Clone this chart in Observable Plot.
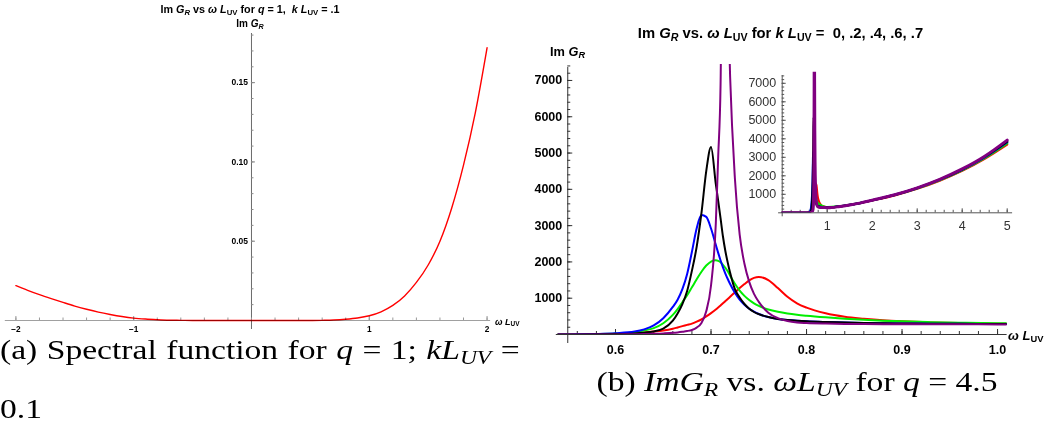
<!DOCTYPE html>
<html><head><meta charset="utf-8">
<script src="https://cdn.jsdelivr.net/npm/d3@7"></script>
<script src="https://cdn.jsdelivr.net/npm/@observablehq/plot@0.6"></script>
<style>
html,body{margin:0;padding:0;background:#fff}
body{width:1064px;height:430px;position:relative;overflow:hidden}
.box{position:absolute}
.box svg{display:block;overflow:visible;background:none;max-width:none}
.lbl{position:absolute;font-family:"Liberation Sans",Arial,sans-serif;font-weight:bold;white-space:nowrap;line-height:1;color:#000}
.c{transform:translate(-50%,-50%)}
.lm{transform:translate(0,-50%)}
.lbl sub{font-size:0.72em;vertical-align:-0.28em;line-height:0}
.cap{position:absolute;font-family:"Liberation Serif","Times New Roman",serif;font-size:28px;line-height:1;white-space:nowrap;color:#000;transform-origin:0 0;transform:scaleX(1.2)}
.cap.cc{transform-origin:50% 50%;transform:translate(-50%,-50%) scaleX(1.2)}
.cap sub{font-size:0.7em;vertical-align:-0.25em;line-height:0}
</style></head><body>
<div id="chartA" class="box" style="left:0;top:0;width:520px;height:345px"></div>
<div id="chartB" class="box" style="left:530px;top:40px;width:534px;height:320px"></div>
<div id="chartC" class="box" style="left:735px;top:60px;width:290px;height:175px"></div>

<div class="lbl c" style="left:250px;top:8.7px;font-size:10.8px">Im <i>G</i><sub><i>R</i></sub> vs <i>ω</i> <i>L</i><sub>UV</sub> for <i>q</i> = 1,&nbsp; <i>k</i> <i>L</i><sub>UV</sub> = .1</div>
<div class="lbl c" style="left:250px;top:23.5px;font-size:10px">Im <i>G</i><sub><i>R</i></sub></div>
<div class="lbl lm" style="left:495px;top:322px;font-size:9px"><i>ω</i> <i>L</i><sub>UV</sub></div>

<div class="lbl c" style="left:780.5px;top:32.7px;font-size:14.8px">Im <i>G</i><sub><i>R</i></sub> vs. <i>ω</i> <i>L</i><sub>UV</sub> for <i>k</i> <i>L</i><sub>UV</sub> =&nbsp; 0, .2, .4, .6, .7</div>
<div class="lbl lm" style="left:550px;top:51.7px;font-size:12.8px">Im <i>G</i><sub><i>R</i></sub></div>
<div class="lbl lm" style="left:1008px;top:335px;font-size:13px"><i>ω</i> <i>L</i><sub>UV</sub></div>

<div class="cap" style="left:0;top:336px;width:433px;word-spacing:-1px;text-align:justify;text-align-last:justify">(a) Spectral function for <i>q</i> = 1; <i>kL<sub>UV</sub></i> =</div>
<div class="cap" style="left:0;top:395px">0.1</div>
<div class="cap cc" style="left:797px;top:382px">(b) <i>ImG<sub>R</sub></i> vs. <i>ωL<sub>UV</sub></i> for <i>q</i> = 4.5</div>

<script>
// ---------- Panel (a): q = 1, k L_UV = 0.1 ----------
const omegaA = [-2.0,-1.9,-1.8,-1.7,-1.6,-1.5,-1.4,-1.3,-1.2,-1.1,-1.0,-0.9,-0.8,-0.7,-0.6,-0.5,-0.4,-0.3,-0.2,-0.1,0.0,0.1,0.2,0.3,0.4,0.5,0.6,0.7,0.8,0.9,1.0,1.1,1.2,1.3,1.4,1.5,1.6,1.7,1.8,1.9,2.0];
const imGA = [0.0220,0.0190,0.0163,0.0138,0.0114,0.0091,0.0071,0.0053,0.0038,0.0025,0.0015,0.0009,0.0005,0.0002,0.0001,0,0,0,0,0,0,0,0,0,0,0,0.0001,0.0003,0.0008,0.0016,0.0030,0.0055,0.0095,0.0155,0.0240,0.0350,0.0500,0.0710,0.0980,0.1310,0.1720];
const xMajorA = [-2,-1,1,2];
const xTickLabelsA = ["\u22122","\u22121","1","2"];
const yMajorA = [0.05,0.10,0.15];
const yTickLabelsA = ["0.05","0.10","0.15"];
const xMinorA = d3.range(-2,2.001,0.2);
const yMinorA = d3.range(0.01,0.1801,0.01);

// ---------- Panel (b): q = 4.5, k L_UV = 0, .2, .4, .6, .7 ----------
const kLabels = ["0",".2",".4",".6",".7"];
const seriesColors = ["#ff0000","#00ee00","#0000ff","#000000","#800080"];
const omegaB = [0.54,0.56,0.58,0.60,0.62,0.63,0.64,0.65,0.66,0.665,0.67,0.675,0.68,0.685,0.69,0.695,0.70,0.705,0.7075,0.71,0.7125,0.715,0.7175,0.72,0.725,0.73,0.735,0.74,0.745,0.75,0.76,0.77,0.78,0.79,0.80,0.82,0.84,0.86,0.88,0.90,0.93,0.96,1.00,1.01];
const imG_k0  = [0,2,6,15,35,55,80,110,160,195,230,265,300,355,420,500,590,690,745,800,860,920,980,1040,1160,1280,1390,1490,1560,1585,1500,1280,1040,860,740,585,490,435,392,363,333,314,297,295];
const imG_k02 = [0,3,10,25,65,110,175,310,540,700,890,1080,1300,1520,1730,1900,2010,2045,2030,1990,1920,1840,1740,1620,1400,1210,1065,950,860,790,690,625,578,543,516,472,436,406,382,362,340,325,312,310];
const imG_k04 = [0,5,15,35,80,140,250,450,760,960,1250,1670,2280,2930,3290,3240,2920,2470,2250,2040,1850,1680,1530,1390,1150,960,820,710,630,565,480,430,400,380,365,345,330,318,310,303,298,294,291,290];
const imG_k06 = [0,2,5,12,30,50,85,160,380,580,840,1200,1760,2420,3350,4500,5170,4150,3680,3200,2700,2300,1980,1700,1250,1020,840,710,620,560,480,430,400,380,365,345,330,318,310,303,297,293,290,290];
const imG_k07 = [0,0,1,3,8,12,20,30,45,58,75,95,125,190,320,640,1350,3050,4900,6900,13000,13000,9500,7100,4300,2750,1950,1450,1120,900,600,450,370,330,315,300,292,288,285,283,281,280,279,279];
const xMajorB = [0.6,0.7,0.8,0.9,1.0];
const xTickLabelsB = ["0.6","0.7","0.8","0.9","1.0"];
const yMajorB = [1000,2000,3000,4000,5000,6000,7000];
const xMinorB = d3.range(0.56,1.0001,0.02);
const yMinorB = d3.range(200,7401,200);
const axisOriginB = 0.55;

// ---------- Inset: wide range ----------
const omegaLead = [0,0.3,0.5];
const imGLead = [0,0,0];
const omegaTail = [1.1,1.25,1.5,1.75,2.0,2.5,3.0,3.5,4.0,4.5,5.0];
const tail_k0  = [302,335,420,530,665,945,1300,1740,2270,2920,3690];
const tail_k02 = [318,350,432,540,675,960,1320,1765,2300,2960,3760];
const tail_k04 = [300,340,430,540,678,968,1335,1785,2330,3000,3820];
const tail_k06 = [298,338,428,540,680,972,1340,1795,2345,3020,3850];
const tail_k07 = [288,330,422,537,680,975,1350,1810,2370,3060,3930];
const xMajorC = [1,2,3,4,5];
const yMajorC = [1000,2000,3000,4000,5000,6000,7000];
const xMinorC = d3.range(0.2,5.001,0.2);
const yMinorC = d3.range(200,7401,200);

const mainSeries = [imG_k0,imG_k02,imG_k04,imG_k06,imG_k07];
const tailSeries = [tail_k0,tail_k02,tail_k04,tail_k06,tail_k07];

const FONT = "'Liberation Sans', Arial, sans-serif";

// ---- Chart A ----
{
  const W=520,H=345,mL=4.8,mR=29.9,mT=33,mB=25;
  const dom=[-2.09,2.03];
  const fw=W-mL-mR, fh=H-mT-mB;
  const off=(0-dom[0])/(dom[1]-dom[0])*fw;
  const data = omegaA.map((w,i)=>({w, v: imGA[i]}));
  const svg = Plot.plot({
    width:W,height:H,marginLeft:mL,marginRight:mR,marginTop:mT,marginBottom:mB,
    x:{domain:dom,axis:null}, y:{domain:[0,0.181],axis:null},
    style:{background:"none",overflow:"visible",fontFamily:FONT},
    marks:[
      Plot.ruleY([0],{stroke:"#a0a0a0",strokeWidth:1.2}),
      Plot.ruleX([0],{stroke:"#6a6a6a",strokeWidth:1,insetBottom:-9}),
      Plot.tickX(xMinorA,{x:d=>d,insetTop:fh-2.5,stroke:"#999"}),
      Plot.tickX(xMajorA,{x:d=>d,insetTop:fh-4,stroke:"#999"}),
      Plot.tickY(yMinorA,{y:d=>d,insetLeft:off,insetRight:fw-off-2.5,stroke:"#888"}),
      Plot.tickY(yMajorA,{y:d=>d,insetLeft:off,insetRight:fw-off-4,stroke:"#888"}),
      Plot.text(xMajorA,{x:d=>d,y:()=>0,dy:9.3,text:(d,i)=>xTickLabelsA[i],fontWeight:"bold",fontSize:8.3}),
      Plot.text(yMajorA,{x:()=>0,y:d=>d,dx:-3.5,textAnchor:"end",text:(d,i)=>yTickLabelsA[i],fontWeight:"bold",fontSize:8.5}),
      Plot.line(data,{x:"w",y:"v",stroke:"#ff0000",strokeWidth:1.4,curve:"monotone-x",mixBlendMode:"multiply"})
    ]
  });
  document.getElementById("chartA").append(svg);
}

// ---- Chart B ----
{
  const W=534,H=320,mL=25.8,mR=57.4,mT=24,mB=26;
  const dom=[0.538,1.01];
  const fw=W-mL-mR, fh=H-mT-mB;
  const off=(axisOriginB-dom[0])/(dom[1]-dom[0])*fw;
  const lines = mainSeries.map((vals,s)=>Plot.line(omegaB.map((w,i)=>({w,v:vals[i]})),
    {x:"w",y:"v",stroke:seriesColors[s],strokeWidth:2,curve:"monotone-x",clip:true}));
  const svg = Plot.plot({
    width:W,height:H,marginLeft:mL,marginRight:mR,marginTop:mT,marginBottom:mB,
    x:{domain:dom,axis:null}, y:{domain:[0,7440],axis:null},
    style:{background:"none",overflow:"visible",fontFamily:FONT},
    marks:[
      Plot.ruleY([0],{stroke:"#333",strokeWidth:1}),
      Plot.ruleX([axisOriginB],{stroke:"#333",strokeWidth:1,insetTop:3,insetBottom:-9}),
      Plot.tickX(xMinorB,{x:d=>d,insetTop:fh-3,stroke:"#333"}),
      Plot.tickX(xMajorB,{x:d=>d,insetTop:fh-5,stroke:"#333"}),
      Plot.tickY(yMinorB,{y:d=>d,insetLeft:off,insetRight:fw-off-3,stroke:"#333"}),
      Plot.tickY(yMajorB,{y:d=>d,insetLeft:off,insetRight:fw-off-5,stroke:"#333"}),
      Plot.text(xMajorB,{x:d=>d,y:()=>0,dy:15,text:(d,i)=>xTickLabelsB[i],fontWeight:"bold",fontSize:12.5}),
      Plot.text(yMajorB,{x:()=>axisOriginB,y:d=>d,dx:-5.5,textAnchor:"end",text:d=>String(d),fontWeight:"bold",fontSize:12.5}),
      ...lines
    ]
  });
  document.getElementById("chartB").append(svg);
}

// ---- Chart C (inset) ----
{
  const W=290,H=175,mL=43.1,mR=12.9,mT=11.7,mB=22.7;
  const dom=[-0.08,5.12];
  const fw=W-mL-mR, fh=H-mT-mB;
  const off=(0-dom[0])/(dom[1]-dom[0])*fw;
  const lines = mainSeries.map((vals,s)=>{
    const w = omegaLead.concat(omegaB, omegaTail);
    const v = imGLead.concat(vals, tailSeries[s]);
    return Plot.line(w.map((x,i)=>({w:x,v:v[i]})),
      {x:"w",y:"v",stroke:seriesColors[s],strokeWidth:s===4?3:2.2,curve:"monotone-x",clip:true});
  });
  const svg = Plot.plot({
    width:W,height:H,marginLeft:mL,marginRight:mR,marginTop:mT,marginBottom:mB,
    x:{domain:dom,axis:null}, y:{domain:[0,7600],axis:null},
    style:{background:"none",overflow:"visible",fontFamily:FONT},
    marks:[
      Plot.ruleY([0],{stroke:"#555",strokeWidth:1}),
      Plot.ruleX([0],{stroke:"#555",strokeWidth:1,insetTop:3.3,insetBottom:-4}),
      Plot.tickX(xMinorC,{x:d=>d,insetTop:fh-2.5,stroke:"#555"}),
      Plot.tickX(xMajorC,{x:d=>d,insetTop:fh-4,stroke:"#555"}),
      Plot.tickY(yMinorC,{y:d=>d,insetLeft:off,insetRight:fw-off-2.5,stroke:"#555"}),
      Plot.tickY(yMajorC,{y:d=>d,insetLeft:off,insetRight:fw-off-4,stroke:"#555"}),
      Plot.text(xMajorC,{x:d=>d,y:()=>0,dy:13.5,text:d=>String(d),fontSize:12.5,fill:"#333"}),
      Plot.text(yMajorC,{x:()=>0,y:d=>d,dx:-6,textAnchor:"end",text:d=>String(d),fontSize:12.5,fill:"#333"}),
      ...lines
    ]
  });
  document.getElementById("chartC").append(svg);
}
</script>
</body></html>
